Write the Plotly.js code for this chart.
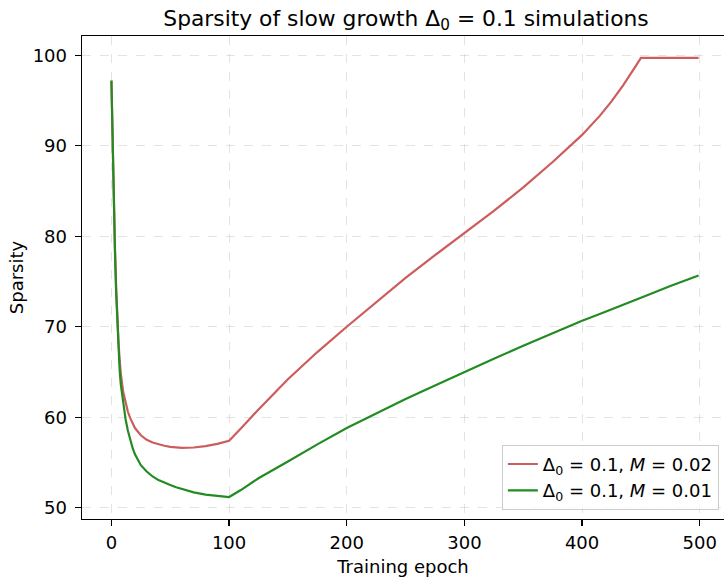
<!DOCTYPE html>
<html>
<head>
<meta charset="utf-8">
<script src="https://cdn.plot.ly/plotly-3.0.1.min.js"></script>
<style>html,body{margin:0;padding:0;background:#fff;}#chart{width:724px;height:579px;}</style>
</head>
<body>
<div id="chart"></div>
<script>
const epochs = [0,1,2,3,4,5,6,7,8,10,12,14,16,18,20,25,30,35,40,45,50,55,60,70,80,90,100,110,125,150,175,200,225,250,275,300,325,350,375,400,415,425,435,445,449,450,475,499];
const sparsityM002 = [97.2,89.5,83.5,78.8,74.5,71.0,68.3,66.3,64.8,62.8,61.5,60.6,59.9,59.3,58.8,58.0,57.5,57.2,57.0,56.85,56.72,56.64,56.6,56.65,56.8,57.05,57.4,58.75,60.85,64.2,67.2,70.0,72.7,75.4,77.9,80.3,82.8,85.4,88.2,91.2,93.3,94.9,96.7,98.7,99.5,99.71,99.71,99.71];
const sparsityM001 = [97.2,89.3,83.2,78.3,73.8,70.2,67.3,65.2,63.6,61.4,59.8,58.5,57.4,56.6,55.9,54.7,54.0,53.45,53.05,52.75,52.5,52.25,52.05,51.7,51.45,51.3,51.18,51.95,53.25,55.1,57.0,58.8,60.4,62.0,63.5,65.0,66.45,67.9,69.3,70.65,71.4,71.9,72.4,72.95,73.15,73.2,74.5,75.66];
const seriesNames = ["Δ<sub>0</sub> = 0.1, <i>M</i> = 0.02", "Δ<sub>0</sub> = 0.1, <i>M</i> = 0.01"];
const titleText = "Sparsity of slow growth Δ<sub>0</sub> = 0.1 simulations";
const xTicks = [0,100,200,300,400,500];
const yTicks = [50,60,70,80,90,100];

const font = "DejaVu Sans, sans-serif";
const traces = [
  {x: epochs, y: sparsityM002, name: seriesNames[0], mode: "lines", line: {color: "#cd5c5c", width: 2.2}},
  {x: epochs, y: sparsityM001, name: seriesNames[1], mode: "lines", line: {color: "#228b22", width: 2.2}}
];
const axisCommon = {
  showline: true, linecolor: "#000", linewidth: 1.4,
  ticks: "outside", ticklen: 6, tickwidth: 1.4, tickcolor: "#000",
  showgrid: true, gridcolor: "rgba(200,200,200,0.5)", gridwidth: 1, griddash: "dash",
  zeroline: false, tickfont: {family: font, size: 18, color: "#000"}
};
const layout = {
  width: 724, height: 579,
  margin: {l: 82, r: 0, t: 36, b: 60, pad: 0},
  paper_bgcolor: "#fff", plot_bgcolor: "#fff",
  font: {family: font, color: "#000", size: 18},
  title: {text: titleText, font: {family: font, size: 21.8, color: "#000"}, xref: "container", x: 406/724, xanchor: "center", yref: "container", y: 1 - 18/579, yanchor: "middle"},
  xaxis: Object.assign({}, axisCommon, {range: [-25, 520.6], tickvals: xTicks, mirror: true, ticklabelstandoff: 1,
    title: {text: "Training epoch", font: {family: font, size: 18, color: "#000"}, standoff: 8}}),
  yaxis: Object.assign({}, axisCommon, {range: [48.75, 102.13], tickvals: yTicks, ticklabelstandoff: 4,
    title: {text: "Sparsity", font: {family: font, size: 18, color: "#000"}, standoff: 4}}),
  showlegend: true,
  legend: {x: 0.992, xanchor: "right", y: 0.019, yanchor: "bottom", bgcolor: "rgba(255,255,255,0.8)", bordercolor: "#cccccc", borderwidth: 1, font: {family: font, size: 18, color: "#000"}, tracegroupgap: 0}
};
Plotly.newPlot("chart", traces, layout, {displayModeBar: false, staticPlot: true});
</script>
</body>
</html>
